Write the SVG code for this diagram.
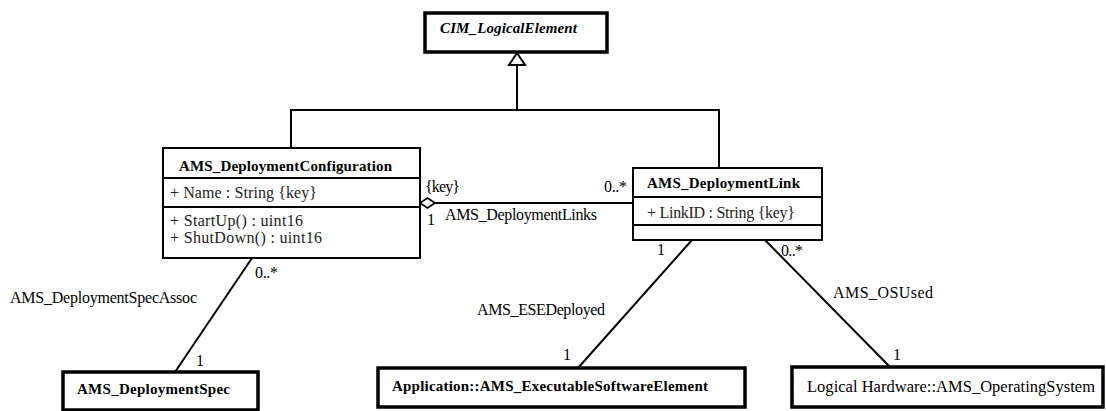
<svg xmlns="http://www.w3.org/2000/svg" width="1106" height="411" viewBox="0 0 1106 411" font-family="Liberation Serif, Times New Roman, serif" font-size="16">
<style>
.box{fill:#fff;stroke:#000;stroke-width:2}
.tbox{fill:#fff;stroke:#000;stroke-width:3.5}
.div{stroke:#000;stroke-width:2}
.ln{stroke:#000;stroke-width:2;fill:none}
.b{font-weight:bold;font-size:15px}
.i{font-style:italic;font-weight:bold;font-size:15px}
.g{fill:#222}
</style>
<g id="connectors">
<polyline class="ln" points="517,65 517,110"/>
<polyline class="ln" points="291,148 291,110 719,110 719,168"/>
<polygon points="517,53 509,65 525,65" fill="#fff" stroke="#000" stroke-width="2"/>
<line class="ln" x1="435" y1="203" x2="633" y2="203"/>
<polygon points="420,203 427.5,198 435,203 427.5,208" fill="#fff" stroke="#000" stroke-width="1.8"/>
<line class="ln" x1="252" y1="258" x2="175" y2="372"/>
<line class="ln" x1="692" y1="240" x2="578" y2="368"/>
<line class="ln" x1="765" y1="240" x2="890" y2="367"/>
<text x="425" y="192" textLength="35">{key}</text>
<text x="604" y="192" textLength="23">0..*</text>
<text x="427" y="225">1</text>
<text x="445" y="220" textLength="152">AMS_DeploymentLinks</text>
<text x="10" y="303" textLength="187">AMS_DeploymentSpecAssoc</text>
<text x="255" y="278" textLength="23">0..*</text>
<text x="196" y="366">1</text>
<text x="657" y="255">1</text>
<text x="781" y="256" textLength="22">0..*</text>
<text x="477" y="315" textLength="128">AMS_ESEDeployed</text>
<text x="563" y="360">1</text>
<text x="833" y="298" textLength="100">AMS_OSUsed</text>
<text x="893" y="360">1</text>
</g>
<g id="CIM_LogicalElement">
<rect class="tbox" x="425" y="13" width="182" height="39"/>
<text class="i" x="440" y="33" textLength="137">CIM_LogicalElement</text>
</g>
<g id="AMS_DeploymentConfiguration">
<rect class="box" x="163" y="148" width="257" height="110"/>
<line class="div" x1="163" y1="178" x2="420" y2="178"/>
<line class="div" x1="163" y1="207" x2="420" y2="207"/>
<text class="b" x="179" y="171" textLength="213">AMS_DeploymentConfiguration</text>
<text class="g" x="170" y="198" textLength="147">+ Name : String {key}</text>
<text class="g" x="170" y="226" textLength="133">+ StartUp() : uint16</text>
<text class="g" x="170" y="243" textLength="152">+ ShutDown() : uint16</text>
</g>
<g id="AMS_DeploymentLink">
<rect class="box" x="633" y="168" width="189" height="72"/>
<line class="div" x1="633" y1="197" x2="822" y2="197"/>
<line class="div" x1="633" y1="225" x2="822" y2="225"/>
<text class="b" x="647" y="188" textLength="153">AMS_DeploymentLink</text>
<text class="g" x="647" y="218" textLength="148">+ LinkID : String {key}</text>
</g>
<g id="AMS_DeploymentSpec">
<rect class="tbox" x="63" y="372" width="195" height="38"/>
<text class="b" x="77" y="394" textLength="153">AMS_DeploymentSpec</text>
</g>
<g id="AMS_ExecutableSoftwareElement">
<rect class="tbox" x="378" y="368" width="367" height="39"/>
<text class="b" x="392" y="391" textLength="316">Application::AMS_ExecutableSoftwareElement</text>
</g>
<g id="AMS_OperatingSystem">
<rect class="tbox" x="792" y="367" width="311" height="40"/>
<text font-size="16.5" x="807" y="392" textLength="288">Logical Hardware::AMS_OperatingSystem</text>
</g>
</svg>
